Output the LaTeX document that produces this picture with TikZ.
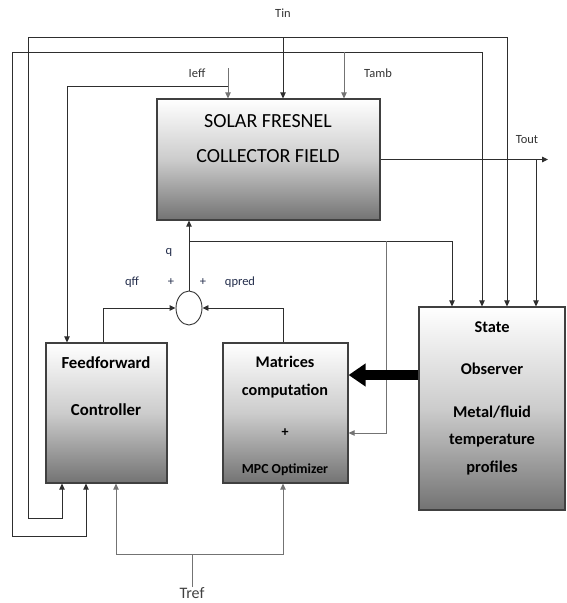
\documentclass[tikz,border=0pt]{standalone}
\usepackage{fontspec}
\setmainfont{Carlito}
\usetikzlibrary{arrows.meta,shapes.geometric}
\begin{document}
\begin{tikzpicture}[x=1pt,y=-1pt,
  box/.style={draw=black!75, line width=1.2pt, top color=white, bottom color=black!55, middle color=black!20, inner sep=0pt},
  conn/.style={draw=black!82, line width=0.9pt},
  gconn/.style={draw=black!55, line width=0.9pt},
  arr/.style={-{Triangle[length=6pt,width=5.5pt]}},
  big/.style={draw=black, line width=10pt, -{Triangle[length=17pt,width=22pt]}},
  bigtxt/.style={font=\fontsize{20}{24}\selectfont, inner sep=0pt, anchor=mid, yshift=-3.5pt},
  bold/.style={font=\fontsize{16.8}{20}\selectfont\bfseries, inner sep=0pt, anchor=mid, yshift=-3pt},
  lbl/.style={font=\fontsize{12.5}{15}\selectfont, text=black!80, inner sep=0pt, anchor=mid, yshift=-2pt},
  qlbl/.style={font=\fontsize{12.5}{15}\selectfont, text={rgb,255:red,35;green,45;blue,75}, inner sep=0pt, anchor=mid, yshift=-2pt}
]
\useasboundingbox (0,0) rectangle (566,603);

% boxes
\node[box, minimum width=223pt, minimum height=121pt] (sf) at (268.5,159.5) {};
\node[box, minimum width=121pt, minimum height=140pt] (ff) at (106.5,413) {};
\node[box, minimum width=125pt, minimum height=140pt] (mpc) at (285.5,413) {};
\node[box, minimum width=146pt, minimum height=203pt] (so) at (492,408.5) {};
\node[draw=black!80, line width=0.9pt, fill=white, ellipse, minimum width=26pt, minimum height=34pt, inner sep=0pt] (sum) at (189,308) {};

% box texts
\node[bigtxt] (sf1) at (268,122) {SOLAR FRESNEL};
\node[bigtxt] (sf2) at (268,157) {COLLECTOR FIELD};
\node[bold] (ff1) at (106,363) {Feedforward};
\node[bold] (ff2) at (106,410) {Controller};
\node[bold, font=\fontsize{16.2}{20}\selectfont\bfseries] (m1) at (285,362) {Matrices};
\node[bold, font=\fontsize{16.2}{20}\selectfont\bfseries] (m2) at (285,390) {computation};
\node[bold, font=\fontsize{14}{18}\selectfont\bfseries] (m3) at (285,431) {+};
\node[bold, font=\fontsize{13.8}{18}\selectfont\bfseries] (m4) at (285,468) {MPC Optimizer};
\node[bold, font=\fontsize{16.4}{20}\selectfont\bfseries] (s1) at (492,327) {State};
\node[bold, font=\fontsize{16.4}{20}\selectfont\bfseries] (s2) at (492,369) {Observer};
\node[bold, font=\fontsize{16.4}{20}\selectfont\bfseries] (s3) at (492,412) {Metal/fluid};
\node[bold, font=\fontsize{16.4}{20}\selectfont\bfseries] (s4) at (492,439) {temperature};
\node[bold, font=\fontsize{16.4}{20}\selectfont\bfseries] (s5) at (492,467) {profiles};

% labels
\node[lbl] (tin) at (283,13) {Tin};
\node[lbl] (ieffl) at (197,73) {Ieff};
\node[lbl] (tambl) at (378,73) {Tamb};
\node[lbl] (toutl) at (527,139) {Tout};
\node[qlbl] (ql) at (169,250) {q};
\node[qlbl] (qffl) at (132,281) {qff};
\node[qlbl] (p1) at (171,281) {+};
\node[qlbl] (p2) at (203,281) {+};
\node[qlbl] (qpl) at (240,281) {qpred};
\node[lbl, font=\fontsize{16}{19}\selectfont, text=black!75, yshift=-1pt] (tref) at (192,593) {Tref};

% coordinates
\coordinate (l1tl) at (28,37);
\coordinate (l1tr) at (507,37);
\coordinate (tinc) at (283,37);
\coordinate (l1b) at (62,518);
\coordinate (l2tl) at (12,52);
\coordinate (l2tr) at (482,52);
\coordinate (tamb) at (344,52);
\coordinate (l2b) at (86,536);
\coordinate (ieff) at (228,68);
\coordinate (ieffb) at (228,86);
\coordinate (ffin) at (67,86);
\coordinate (tout) at (548,159.5);
\coordinate (toutb) at (536,159.5);
\coordinate (qb) at (189,241);
\coordinate (qr) at (452,241);
\coordinate (qv) at (386,241);
\coordinate (qv2) at (386,433);
\coordinate (ffo) at (103,308);
\coordinate (mo) at (283,308);
\coordinate (th) at (400,375);
\coordinate (tr1) at (116,554);
\coordinate (tr2) at (283,554);
\coordinate (trm) at (192,554);

% Tin loop
\draw[conn] (l1tl) -- (l1tr);
\draw[conn,arr] (tinc) -- (tinc |- sf.north);
\draw[conn,arr] (l1tr) -- (l1tr |- so.north);
\draw[conn,arr] (l1tl) |- (l1b) -- (l1b |- ff.south);

% Tamb loop
\draw[conn] (l2tl) -- (l2tr);
\draw[gconn,arr] (tamb) -- (tamb |- sf.north);
\draw[conn,arr] (l2tr) -- (l2tr |- so.north);
\draw[conn,arr] (l2tl) |- (l2b) -- (l2b |- ff.south);

% Ieff
\draw[gconn,arr] (ieff) -- (ieff |- sf.north);
\draw[conn,arr] (ieffb) -- (ffin) -- (ffin |- ff.north);

% Tout
\draw[conn,arr] (sf.east) -- (tout);
\draw[conn,arr] (toutb) -- (toutb |- so.north);

% q
\draw[conn,arr] (sum.north) -- (sum.north |- sf.south);
\draw[conn,arr] (qb) -- (qr) -- (qr |- so.north);
\draw[gconn,arr] (qv) -- (qv2) -- (qv2 -| mpc.east);

% summing inputs
\draw[conn,arr] (ffo |- ff.north) -- (ffo) -- (sum.west);
\draw[conn,arr] (mo |- mpc.north) -- (mo) -- (sum.east);

% thick arrow
\draw[big] (th -| so.west) -- (th -| mpc.east);

% Tref
\draw[gconn,arr] (trm) -- (tr1) -- (tr1 |- ff.south);
\draw[gconn,arr] (trm) -- (tr2) -- (tr2 |- mpc.south);
\draw[gconn] (tref) -- (trm);
\end{tikzpicture}
\end{document}
